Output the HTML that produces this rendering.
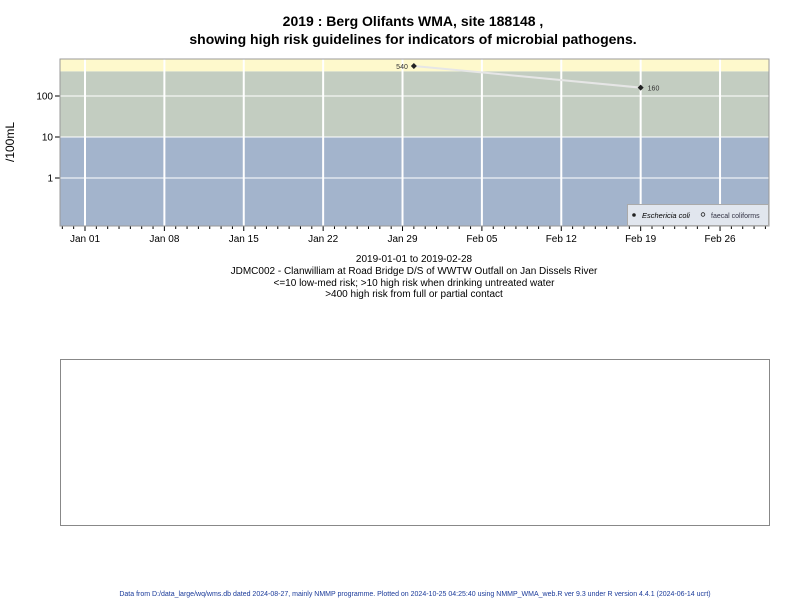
<!DOCTYPE html>
<html><head><meta charset="utf-8"><style>
body{margin:0;background:#fff;}
svg text{font-family:"Liberation Sans",sans-serif;}
</style></head><body>
<svg width="800" height="600" xmlns="http://www.w3.org/2000/svg">
<text x="413" y="26" text-anchor="middle" font-size="14" font-weight="bold">2019 : Berg Olifants WMA, site 188148 ,</text>
<text x="413" y="44" text-anchor="middle" font-size="14" font-weight="bold">showing high risk guidelines for indicators of microbial pathogens.</text>
<g id="plot"></g>
<text x="14" y="142" font-size="12" text-anchor="middle" transform="rotate(-90 14 142)">/100mL</text>
<g font-size="10" text-anchor="middle">
<text x="414" y="262">2019-01-01 to 2019-02-28</text>
<text x="414" y="274">JDMC002 - Clanwilliam at Road Bridge D/S of WWTW Outfall on Jan Dissels River</text>
<text x="414" y="286">&lt;=10 low-med risk; &gt;10 high risk when drinking untreated water</text>
<text x="414" y="297">&gt;400 high risk from full or partial contact</text>
</g>
<rect x="60.5" y="359.5" width="709" height="166" fill="none" stroke="#888"/>
<text x="415" y="596" font-size="7" fill="#1a3a9a" text-anchor="middle">Data from D:/data_large/wq/wms.db dated 2024-08-27, mainly NMMP programme. Plotted on 2024-10-25 04:25:40 using NMMP_WMA_web.R ver 9.3 under R version 4.4.1 (2024-06-14 ucrt)</text>
</svg>
<script>
const dates=["2019-01-30","2019-02-19"];
const ecoli=[540,160];
const yTicks=[1,10,100];
const xTickLabels=["Jan 01","Jan 08","Jan 15","Jan 22","Jan 29","Feb 05","Feb 12","Feb 19","Feb 26"];
const bands=[[0.01,10,"#a3b4cc"],[10,400,"#c3cdc1"],[400,10000,"#fef9cc"]];
const L=60,R=769,T=59,B=226;
const day0=Date.UTC(2019,0,1);
function dayOf(s){const p=s.split("-");return (Date.UTC(+p[0],p[1]-1,+p[2])-day0)/864e5;}
function x(d){return 85+d*11.34;}
function y(v){return 96-(Math.log10(v)-2)*41;}
const NS="http://www.w3.org/2000/svg";
const g=document.getElementById("plot");
function el(t,a,p){const e=document.createElementNS(NS,t);for(const k in a)e.setAttribute(k,a[k]);(p||g).appendChild(e);return e;}
bands.forEach((b,i)=>{const y1=Math.max(T,y(b[1])),y2=Math.min(B,y(b[0]));
const r=el("rect",{x:L,y:y1,width:R-L,height:y2-y1,fill:b[2]});

});
xTickLabels.forEach((lab,i)=>{const xx=x(i*7);
const l=el("line",{x1:xx,x2:xx,y1:T,y2:B,stroke:"#fff","stroke-width":2});


el("line",{x1:xx,x2:xx,y1:B,y2:B+5,stroke:"#000"});
const t=el("text",{x:xx,y:B+16,"font-size":10,"text-anchor":"middle"});t.textContent=lab;

});
for(let d=-2;d<=61;d++){const xx=x(d);if(xx<L||xx>R||d%7===0)continue;el("line",{x1:xx,x2:xx,y1:B,y2:B+3,stroke:"#000"});}
yTicks.forEach(v=>{const yy=y(v);
const l=el("line",{x1:L,x2:R,y1:yy,y2:yy,stroke:"#fff","stroke-width":1});


el("line",{x1:L-5,x2:L,y1:yy,y2:yy,stroke:"#000"});
const t=el("text",{x:L-7,y:yy+3.5,"font-size":10,"text-anchor":"end"});t.textContent=v;

});
el("rect",{x:L,y:T,width:R-L,height:B-T,fill:"none",stroke:"#999"});
const pts=dates.map((d,i)=>[x(dayOf(d)),y(ecoli[i])]);
const ln=el("polyline",{points:pts.map(p=>p.join(",")).join(" "),fill:"none",stroke:"#e6e6e6","stroke-width":2});


pts.forEach((p,i)=>{const m=el("path",{d:`M${p[0]},${p[1]-3}L${p[0]+3},${p[1]}L${p[0]},${p[1]+3}L${p[0]-3},${p[1]}Z`,fill:"#222"});


const first=i===0;
const t=el("text",{x:first?p[0]-6:p[0]+7,y:p[1]+3,"font-size":7,fill:"#333","text-anchor":first?"end":"start"});t.textContent=ecoli[i];

});
const lg=el("g",{});


el("rect",{x:627.5,y:204.5,width:141,height:21,fill:"#e1e6ee",stroke:"#aaa"},lg);
el("circle",{cx:634,cy:215,r:1.8,fill:"#222"},lg);
const t1=el("text",{x:642,y:218,"font-size":7.5,"font-style":"italic"},lg);t1.textContent="Eschericia coli";
el("circle",{cx:703,cy:214.5,r:1.8,fill:"none",stroke:"#222","stroke-width":0.8},lg);
const t2=el("text",{x:711,y:218,"font-size":7,fill:"#334"},lg);t2.textContent="faecal coliforms";
</script>
</body></html>
